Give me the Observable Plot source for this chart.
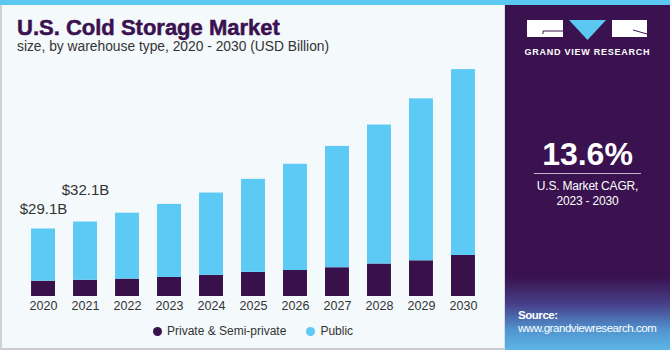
<!DOCTYPE html>
<html>
<head>
<meta charset="utf-8">
<script src="https://cdn.jsdelivr.net/npm/d3@7"></script>
<script src="https://cdn.jsdelivr.net/npm/@observablehq/plot@0.6"></script>
<style>
  html, body { margin: 0; padding: 0; background: #fff; }
  #wrap { position: relative; width: 670px; height: 350px; overflow: hidden; font-family: "Liberation Sans", Arial, sans-serif; }
  #left { position: absolute; left: 0; top: 0; width: 505px; height: 350px; background: #F4F9FC; box-sizing: border-box; border-left: 2px solid #cfd3d6; border-bottom: 2px solid #c9cdd0; }
  #stripe { position: absolute; left: 0; top: 0; width: 670px; height: 5px; background: #5BC8F2; }
  #right { position: absolute; left: 505px; top: 5px; width: 165px; height: 345px;
    background: linear-gradient(to bottom, #3A1250 0px, #3A1250 272px, #47418a 300px, #5194cf 325px, #5cb6e6 345px); }
  #sep { position: absolute; left: 504px; top: 5px; width: 1px; height: 345px; background: #d9dde0; }
  #chart { position: absolute; left: 0; top: 0; }
  .title { position: absolute; left: 17px; top: 17px; font-size: 22px; line-height: 22px; font-weight: 900; color: #3A1250; white-space: nowrap; -webkit-text-stroke: 0.5px #3A1250; }
  .subtitle { position: absolute; left: 17px; top: 40px; font-size: 13.8px; line-height: 14px; color: #333; white-space: nowrap; }
  .legend { position: absolute; top: 324px; left: 153px; font-size: 12px; line-height: 14px; color: #333; white-space: nowrap; }
  .legend span.item { display: inline-flex; align-items: center; margin-right: 20px; }
  .legend span.dot { display: inline-block; width: 9px; height: 9px; border-radius: 50%; margin-right: 5px; }
  .big { position: absolute; left: 505px; width: 165px; text-align: center; color: #fff; }
</style>
</head>
<body>
<div id="wrap">
  <div id="left"></div>
  <div id="stripe"></div>
  <div id="right"></div>
  <div id="sep"></div>
  <div id="chart"></div>
  <div class="title" id="title"></div>
  <div class="subtitle" id="subtitle"></div>
  <div class="legend" id="legend"></div>

  <svg style="position:absolute;left:505px;top:5px" width="165" height="60">
    <rect x="22" y="15" width="36" height="17" fill="#fff"/>
    <path d="M38 29 V26 H58" stroke="#3A1250" stroke-width="1" fill="none"/>
    <polygon points="64,15 101,15 82.5,35" fill="#5BC8F2"/>
    <rect x="107" y="15" width="35" height="17" fill="#fff"/>
    <path d="M128 25 L142 29" stroke="#3A1250" stroke-width="1" fill="none"/>
    <text x="82.5" y="50" text-anchor="middle" fill="#fff" font-size="9" font-weight="700" letter-spacing="0.75" font-family="Liberation Sans, Arial, sans-serif">GRAND VIEW RESEARCH</text>
  </svg>

  <div class="big" id="cagr" style="top:138px;font-size:32px;line-height:32px;font-weight:700;"></div>
  <div style="position:absolute;left:534px;top:173px;width:107px;height:1px;background:#bfb3c8"></div>
  <div class="big" id="cagrLabel" style="top:179px;font-size:12px;line-height:15px;letter-spacing:-0.2px;"></div>
  <div id="source" style="position:absolute;left:518px;top:309px;font-size:11.5px;line-height:13px;color:#fff;letter-spacing:-0.45px;"></div>
</div>

<script>
// ---- data ----
const years = ["2020","2021","2022","2023","2024","2025","2026","2027","2028","2029","2030"];
const privateVals = [6.6, 7.0, 7.5, 8.2, 9.1, 10.4, 11.2, 12.4, 14.0, 15.4, 17.7];
const publicVals  = [22.5, 25.1, 28.4, 31.5, 35.5, 40.1, 45.8, 52.3, 59.9, 69.8, 80.1];
const seriesNames = ["Private & Semi-private", "Public"];
const seriesColors = ["#38104A", "#5DCAF6"];
const annoYears = ["2020", "2021"];
const annoTotals = [29.1, 32.1];
const annoLabels = ["$29.1B", "$32.1B"];
const titleText = "U.S. Cold Storage Market";
const subtitleText = "size, by warehouse type, 2020 - 2030 (USD Billion)";
const cagrValue = "13.6%";
const cagrText = ["U.S. Market CAGR,", "2023 - 2030"];
const sourceText = ["Source:", "www.grandviewresearch.com"];

// ---- table ----
const rows = [];
years.forEach((y, i) => rows.push({year: y, series: seriesNames[0], value: privateVals[i]}));
years.forEach((y, i) => rows.push({year: y, series: seriesNames[1], value: publicVals[i]}));
const annos = annoYears.map((y, i) => ({year: y, total: annoTotals[i], label: annoLabels[i]}));

const chart = Plot.plot({
  width: 505,
  height: 320,
  marginTop: 64,
  marginBottom: 24,
  marginLeft: 13,
  marginRight: 12,
  style: {background: "transparent", fontFamily: "Liberation Sans, Arial, sans-serif", fontSize: "12.5px", color: "#333", overflow: "visible"},
  x: {domain: years, padding: 0.43, round: false, tickSize: 0, tickPadding: 5, label: null},
  y: {domain: [0, 100], axis: null},
  color: {domain: seriesNames, range: seriesColors},
  marks: [
    Plot.barY(rows, {x: "year", y: "value", fill: "series", order: seriesNames}),
    Plot.text(annos.slice(0, 1), {x: "year", y: "total", text: "label", dy: -20, fontSize: 15, fill: "#333"}),
    Plot.text(annos.slice(1, 2), {x: "year", y: "total", text: "label", dy: -32, fontSize: 15, fill: "#333"})
  ]
});
document.getElementById("chart").appendChild(chart);

document.getElementById("title").textContent = titleText;
document.getElementById("subtitle").textContent = subtitleText;
document.getElementById("cagr").textContent = cagrValue;
document.getElementById("cagrLabel").innerHTML = cagrText.join("<br>");
document.getElementById("source").innerHTML = "<b>" + sourceText[0] + "</b><br>" + sourceText[1];

const leg = document.getElementById("legend");
seriesNames.forEach((n, i) => {
  const it = document.createElement("span");
  it.className = "item";
  const d = document.createElement("span");
  d.className = "dot";
  d.style.background = seriesColors[i];
  it.appendChild(d);
  it.appendChild(document.createTextNode(n));
  leg.appendChild(it);
});
</script>
</body>
</html>
